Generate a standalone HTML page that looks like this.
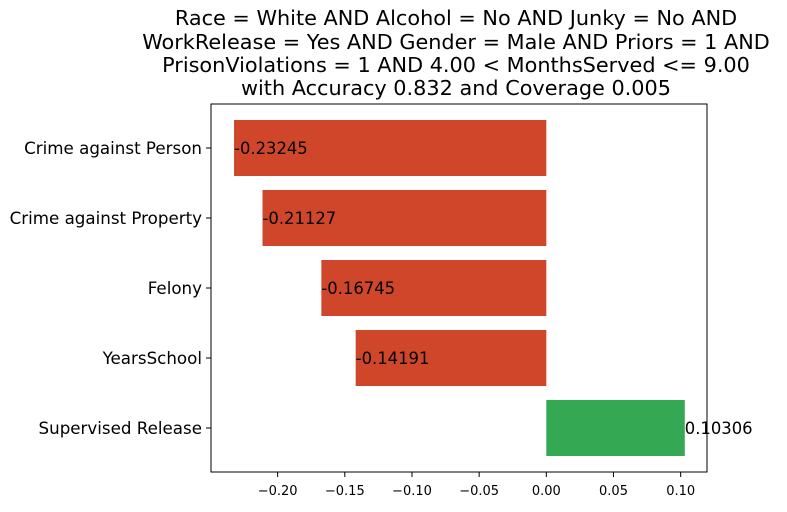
<!DOCTYPE html>
<html><head><meta charset="utf-8"><style>
body{margin:0;background:#fff;}
svg{font-family:"DejaVu Sans","Liberation Sans",sans-serif;}
</style></head><body>
<svg id="chart" width="787" height="507">
<g font-size="20.8" text-anchor="middle" fill="#000">
<text x="456" y="25">Race = White AND Alcohol = No AND Junky = No AND</text>
<text x="456" y="49">WorkRelease = Yes AND Gender = Male AND Priors = 1 AND</text>
<text x="456" y="72">PrisonViolations = 1 AND 4.00 &lt; MonthsServed &lt;= 9.00</text>
<text x="456" y="95">with Accuracy 0.832 and Coverage 0.005</text>
</g>
<g id="bars"></g>
<g id="xaxis"></g>
<g id="yaxis"></g>
<rect x="211" y="104" width="496" height="368" fill="none" stroke="#000" stroke-width="1"/>
</svg>
<script>
const categories=["Crime against Person","Crime against Property","Felony","YearsSchool","Supervised Release"];
const values=[-0.23245,-0.21127,-0.16745,-0.14191,0.10306];
const labels=["-0.23245","-0.21127","-0.16745","-0.14191","0.10306"];
const ticks=[-0.20,-0.15,-0.10,-0.05,0.00,0.05,0.10];
const tickLabels=["\u22120.20","\u22120.15","\u22120.10","\u22120.05","0.00","0.05","0.10"];
const NS="http://www.w3.org/2000/svg";
const x0=211,x1=707,xmin=-0.2496,xmax=0.1196;
const X=v=>x0+(v-xmin)/(xmax-xmin)*(x1-x0);
const Y=i=>148+i*70;
function mk(t,a,p){const e=document.createElementNS(NS,t);for(const k in a)e.setAttribute(k,a[k]);p.appendChild(e);return e;}
const bars=document.getElementById('bars'),xa=document.getElementById('xaxis'),ya=document.getElementById('yaxis');
categories.forEach((c,i)=>{
 const v=values[i];const xa0=X(Math.min(0,v)),xb=X(Math.max(0,v));
 const r=mk('rect',{x:xa0,y:Y(i)-28,width:xb-xa0,height:56,fill:v<0?'#d0462a':'#34a853'},bars);
 
 
 const t=mk('text',{x:X(v),y:Y(i)+6,'font-size':16.4},bars);t.textContent=labels[i];
 
 
 mk('line',{x1:x0-5,x2:x0,y1:Y(i),y2:Y(i),stroke:'#000'},ya);
 const l=mk('text',{x:x0-9,y:Y(i)+6,'font-size':16.7,'text-anchor':'end'},ya);l.textContent=c;
 
 
});
ticks.forEach((t,i)=>{
 mk('line',{x1:X(t),x2:X(t),y1:472,y2:477,stroke:'#000'},xa);
 const l=mk('text',{x:X(t),y:495,'font-size':13,'text-anchor':'middle'},xa);l.textContent=tickLabels[i];
 
 
});
</script>
</body></html>
